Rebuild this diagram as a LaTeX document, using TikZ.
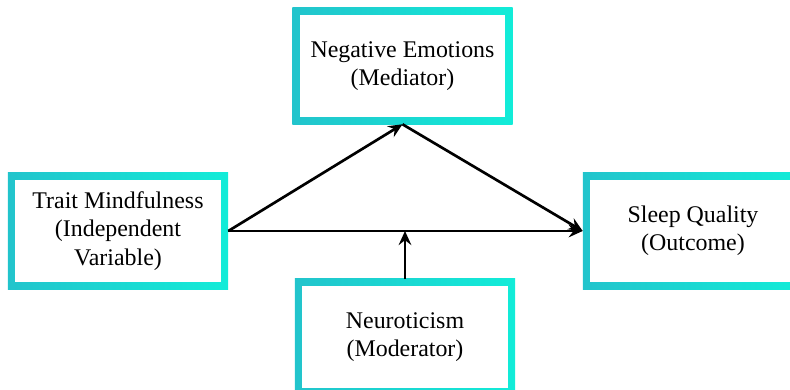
\documentclass[tikz,border=0pt]{standalone}
\usepackage{fontspec}
\setmainfont{Liberation Serif}
\usetikzlibrary{arrows.meta}
\definecolor{tealL}{HTML}{22C4CC}
\definecolor{tealR}{HTML}{12ECD8}
\tikzset{
  varbox/.style={rectangle, minimum width=5.5cm, minimum height=2.9cm,
    left color=tealL, right color=tealR, align=center,
    font=\fontsize{17}{20}\selectfont,
    path picture={\fill[white] ([shift={(5.2pt,5.2pt)}]path picture bounding box.south west)
      rectangle ([shift={(-5.2pt,-5.2pt)}]path picture bounding box.north east);}},
  link/.style={-{Stealth[length=10pt,width=9pt,inset=3.5pt]}, line width=1.9pt}
}
\begin{document}
\begin{tikzpicture}[x=0.025cm,y=-0.025cm]
  \clip (0,0) rectangle (790,389);
  % Variables
  \node[varbox] (trait) at (118,231) {Trait Mindfulness\\(Independent\\Variable)};
  \node[varbox] (emo) at (402.5,66) {Negative Emotions\\(Mediator)};
  \node[varbox] (sleep) at (693,231) {Sleep Quality\\(Outcome)};
  \node[varbox] (neuro) at (405,337) {Neuroticism\\(Moderator)};
  % Paths
  \draw[link] (trait.east) -- (sleep.west);
  \draw[link] (trait.east) -- (emo.south);
  \draw[link] (emo.south) -- (sleep.west);
  \draw[link] (neuro.north) -- (neuro.north |- trait.east);
\end{tikzpicture}
\end{document}
